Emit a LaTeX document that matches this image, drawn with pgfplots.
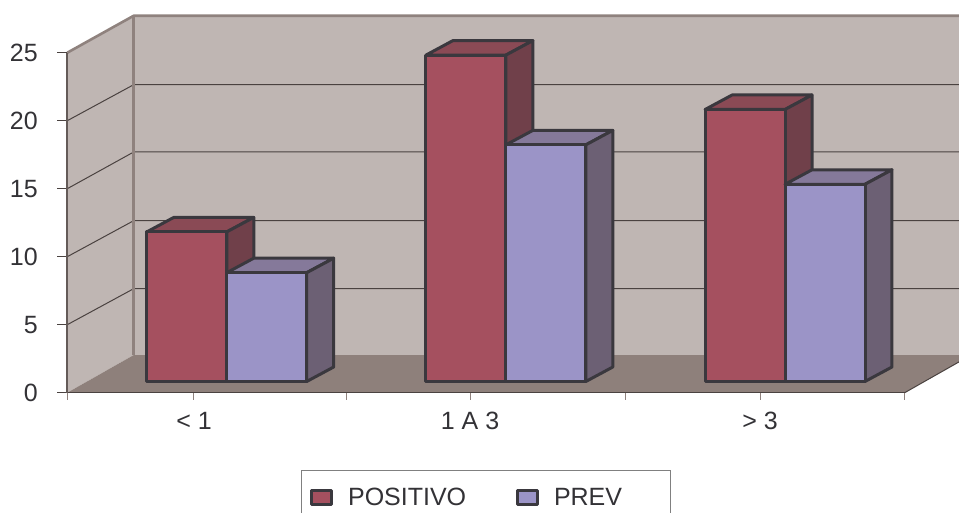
\documentclass[border=0pt]{standalone}
\usepackage{fontspec}
\setmainfont{Liberation Sans}
\usepackage{pgfplots}
\pgfplotsset{compat=1.18}

\definecolor{wall}{HTML}{BFB6B3}
\definecolor{floorc}{HTML}{8E807B}
\definecolor{frame}{HTML}{8F827E}
\definecolor{gridc}{HTML}{4A4240}
\definecolor{ink}{HTML}{3A383E}
\definecolor{txt}{HTML}{333236}
\definecolor{redF}{HTML}{A5505F}
\definecolor{redT}{HTML}{8A4A55}
\definecolor{redS}{HTML}{70404A}
\definecolor{bluF}{HTML}{9B94C7}
\definecolor{bluT}{HTML}{85799A}
\definecolor{bluS}{HTML}{6C6074}

\pgfplotsset{
  face/.style={draw=ink, line width=3pt, line join=round, forget plot},
  swatch/.style={legend image code/.code={%
    \path[draw=ink, line width=2.7pt, fill=#1] (0pt,-7pt) rectangle (20pt,7pt);
    \path (33pt,0pt);}},
}

\begin{document}
\begin{tikzpicture}
\useasboundingbox (0,0) rectangle (959pt,513pt);
\clip (0,0) rectangle (959pt,513pt);

% Chart box: walls, floor, grid and the value and category axes
\begin{axis}[
  at={(67.3pt,120.3pt)}, anchor=south west,
  scale only axis, width=837.4pt, height=340pt,
  xmin=0, xmax=3, ymin=0, ymax=25, clip=false,
  axis lines*=left, axis on top,
  axis line style={draw=gridc, line width=1pt},
  y axis line style={draw=frame!70!black, line width=2pt},
  xtick={0,1,2,3}, xticklabels={},
  ytick={0,5,10,15,20,25},
  tick align=outside, major tick length=10pt,
  x tick style={/pgfplots/major tick length=7pt, draw=frame, line width=1pt},
  y tick style={draw=gridc, line width=1pt},
  extra x ticks={0.4539,1.4427,2.4816},
  extra x tick labels={< 1,1 A 3,> 3},
  extra x tick style={major tick length=0pt, tick style={draw=none}},
  /pgf/number format/assume math mode=true,
  tick label style={font=\fontsize{25}{30}\selectfont, text=txt},
  xticklabel style={yshift=-16pt},
  yticklabel style={xshift=-16pt},
]
  \addplot[fill=wall, draw=none] coordinates {(0,0) (0.2381,2.77) (0.2381,27.77) (0,25)} -- cycle;
  \addplot[fill=wall, draw=none] coordinates {(0.2381,2.77) (3.2381,2.77) (3.2381,27.77) (0.2381,27.77)} -- cycle;
  \addplot[fill=floorc, draw=none] coordinates {(0,0) (3,0) (3.2381,2.77) (0.2381,2.77)} -- cycle;
  \addplot[draw=gridc, line width=1pt] coordinates {(0,5) (0.2381,7.65) (3.2381,7.65)};
  \addplot[draw=gridc, line width=1pt] coordinates {(0,10) (0.2381,12.65) (3.2381,12.65)};
  \addplot[draw=gridc, line width=1pt] coordinates {(0,15) (0.2381,17.7) (3.2381,17.7)};
  \addplot[draw=gridc, line width=1pt] coordinates {(0,20) (0.2381,22.65) (3.2381,22.65)};
  \addplot[draw=frame, line width=2.6pt] coordinates {(0,25) (0.2381,27.72) (3.2381,27.72)};
  \addplot[draw=frame, line width=2.6pt] coordinates {(0.2381,27.72) (0.2381,2.77)};
  \addplot[draw=gridc, line width=1pt] coordinates {(3,0) (3.2381,2.77)};
\end{axis}

% Columns stand on a plane set back from the front edge of the floor
\begin{axis}[
  at={(87.2pt,131.5pt)}, anchor=south west,
  scale only axis, width=837.4pt, height=340pt,
  xmin=0, xmax=3, ymin=0, ymax=25, clip=false, hide axis,
  legend columns=2,
  legend style={
    at={(0.255,-0.2594)}, anchor=north west,
    draw=gray, line width=1pt, fill=white,
    inner xsep=9pt, inner ysep=15.5pt,
    font=\fontsize{25}{30}\selectfont, text=txt,
    /tikz/every even column/.append style={column sep=48pt},
  },
]
  % POSITIVO
  \addplot[fill=redT, face] coordinates {(0.2136,11) (0.5,11) (0.5967,12.066) (0.3103,12.066)} -- cycle;
  \addplot[fill=redT, face] coordinates {(1.2136,24) (1.5,24) (1.5967,25.066) (1.3103,25.066)} -- cycle;
  \addplot[fill=redT, face] coordinates {(2.2136,20) (2.5,20) (2.5967,21.066) (2.3103,21.066)} -- cycle;
  \addplot[fill=redS, face] coordinates {(0.5,0) (0.5,11) (0.5967,12.066) (0.5967,1.066)} -- cycle;
  \addplot[fill=redS, face] coordinates {(1.5,0) (1.5,24) (1.5967,25.066) (1.5967,1.066)} -- cycle;
  \addplot[fill=redS, face] coordinates {(2.5,0) (2.5,20) (2.5967,21.066) (2.5967,1.066)} -- cycle;
  \addplot[ybar, bar width=80pt, bar shift=-40pt, fill=redF, draw=ink,
           line width=3pt, line join=round, swatch=redF]
    coordinates {(0.5,11) (1.5,24) (2.5,20)};
  \addlegendentry{POSITIVO}
  % PREV
  \addplot[fill=bluT, face] coordinates {(0.5,8) (0.7864,8) (0.8831,9.066) (0.5967,9.066)} -- cycle;
  \addplot[fill=bluT, face] coordinates {(1.5,17.4) (1.7864,17.4) (1.8831,18.466) (1.5967,18.466)} -- cycle;
  \addplot[fill=bluT, face] coordinates {(2.5,14.5) (2.7864,14.5) (2.8831,15.566) (2.5967,15.566)} -- cycle;
  \addplot[fill=bluS, face] coordinates {(0.7864,0) (0.7864,8) (0.8831,9.066) (0.8831,1.066)} -- cycle;
  \addplot[fill=bluS, face] coordinates {(1.7864,0) (1.7864,17.4) (1.8831,18.466) (1.8831,1.066)} -- cycle;
  \addplot[fill=bluS, face] coordinates {(2.7864,0) (2.7864,14.5) (2.8831,15.566) (2.8831,1.066)} -- cycle;
  \addplot[ybar, bar width=80pt, bar shift=40pt, fill=bluF, draw=ink,
           line width=3pt, line join=round, swatch=bluF]
    coordinates {(0.5,8) (1.5,17.4) (2.5,14.5)};
  \addlegendentry{PREV\hspace*{37pt}}
\end{axis}
\end{tikzpicture}
\end{document}
